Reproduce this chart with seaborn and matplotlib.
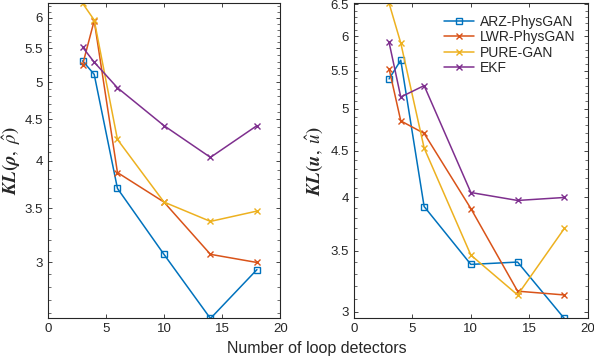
import numpy as np
import pandas as pd
import seaborn as sns
import matplotlib
matplotlib.use("Agg")
import matplotlib.pyplot as plt
from matplotlib.ticker import MultipleLocator, FormatStrFormatter, NullFormatter

detectors = [3, 4, 6, 10, 14, 18]
methods = ["ARZ-PhysGAN", "LWR-PhysGAN", "PURE-GAN", "EKF"]

# KL(rho, rho_hat)
rho_arz = [5.31, 5.11, 3.70, 3.07, 2.56, 2.94]
rho_lwr = [5.25, 5.95, 3.87, 3.56, 3.07, 3.00]
rho_pure = [6.25, 5.96, 4.25, 3.56, 3.37, 3.47]
rho_ekf = [5.52, 5.29, 4.92, 4.42, 4.04, 4.42]

# KL(u, u_hat)
u_arz = [5.39, 5.65, 3.91, 3.38, 3.40, 2.95]
u_lwr = [5.53, 4.85, 4.70, 3.89, 3.16, 3.13]
u_pure = [6.52, 5.90, 4.53, 3.46, 3.13, 3.70]
u_ekf = [5.91, 5.15, 5.30, 4.05, 3.97, 4.00]

colors = ["#0072BD", "#D95319", "#EDB120", "#7E2F8E"]
markers = ["s", "x", "x", "x"]

sns.set_theme(style="ticks")
plt.rcParams["font.family"] = ["Liberation Sans", "DejaVu Sans"]
plt.rcParams["mathtext.fontset"] = "stix"
plt.rcParams["xtick.direction"] = "in"
plt.rcParams["ytick.direction"] = "in"
plt.rcParams["xtick.top"] = True
plt.rcParams["ytick.right"] = True

fig = plt.figure(figsize=(5.94, 3.6), dpi=100)
ax1 = fig.add_axes([0.0803, 0.1153, 0.3914, 0.8756])
ax2 = fig.add_axes([0.596, 0.1153, 0.3934, 0.8756])

panels = [
    (ax1, [rho_arz, rho_lwr, rho_pure, rho_ekf], r"$\boldsymbol{KL(\rho,\ \hat{\rho})}$", -0.108),
    (ax2, [u_arz, u_lwr, u_pure, u_ekf], r"$\boldsymbol{KL(u,\ \hat{u})}$", -0.118),
]

for i, (ax, series, ylab, lx) in enumerate(panels):
    for m, vals, c, mk in zip(methods, series, colors, markers):
        df = pd.DataFrame({"detectors": detectors, "KL": vals})
        sns.lineplot(data=df, x="detectors", y="KL", color=c, marker=mk,
                     markersize=5, markerfacecolor="none", markeredgecolor=c,
                     markeredgewidth=1.0, linewidth=1.1, label=m, ax=ax)
    allv = np.concatenate([np.asarray(s) for s in series])
    ax.set_yscale("log")
    ax.set_xlim(0, 20)
    ax.set_ylim(allv.min(), allv.max())
    ax.xaxis.set_major_locator(MultipleLocator(5))
    ax.yaxis.set_major_locator(MultipleLocator(0.5))
    ax.yaxis.set_major_formatter(FormatStrFormatter("%g"))
    ax.yaxis.set_minor_locator(MultipleLocator(0.1))
    ax.yaxis.set_minor_formatter(NullFormatter())
    ax.tick_params(which="major", length=3, width=0.6, labelsize=9.5, colors="#262626")
    ax.tick_params(which="minor", length=2.2, width=0.6, color="#555555")
    ax.tick_params(axis="x", which="minor", length=0)
    for s in ax.spines.values():
        s.set_linewidth(0.8)
        s.set_color("#262626")
    ax.set_xlabel("")
    ax.set_ylabel(ylab, fontsize=13.5)
    ax.yaxis.set_label_coords(lx, 0.5)
    if i == 0:
        ax.get_legend().remove()

leg = ax2.legend(frameon=False, fontsize=10, loc="upper right",
                 bbox_to_anchor=(0.971, 0.981), borderaxespad=0, borderpad=0.4,
                 handlelength=2.1, handletextpad=0.45, labelspacing=0.1)

fig.text(0.534, 0.031, "Number of loop detectors", ha="center", va="center",
         fontsize=11.5, color="#262626")

fig.savefig("out.png", dpi=100)
